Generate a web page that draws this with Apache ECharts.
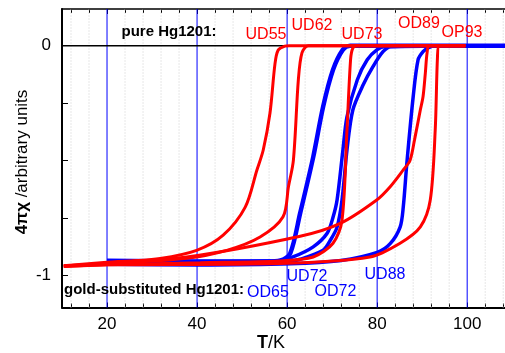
<!DOCTYPE html>
<html><head><meta charset="utf-8">
<script src="https://cdn.jsdelivr.net/npm/echarts@6/dist/echarts.min.js"></script>
<style>html,body{margin:0;padding:0;background:#fff}#c{width:505px;height:353px}</style>
</head><body><div id="c"></div>
<script>
// ---- data: [T (K), 4*pi*chi (arb. units)] ----
// gold-substituted Hg1201 (blue)
const blueOD65 = [[20,-0.939],[40,-0.942],[55,-0.940],[58.5,-0.935],[60.7,-0.904],[62.9,-0.729],[65.8,-0.485],[68,-0.266],[70.2,-0.105],[72.4,-0.017],[74,0],[110,0]];
const blueUD72 = [[20,-0.934],[40,-0.937],[58,-0.937],[61.3,-0.920],[65.8,-0.876],[68.9,-0.817],[70.2,-0.747],[71.1,-0.672],[72.4,-0.454],[73.3,-0.310],[75.6,-0.148],[77.8,-0.061],[80,-0.017],[81.8,-0.003],[110,0]];
const blueOD72 = [[20,-0.944],[40,-0.946],[60,-0.940],[62.9,-0.930],[68,-0.891],[69.6,-0.847],[71.1,-0.790],[72.2,-0.672],[73.3,-0.454],[74.6,-0.28],[76.9,-0.170],[79.1,-0.090],[81.3,-0.026],[83,-0.004],[110,0]];
const blueUD88 = [[20,-0.952],[40,-0.955],[60.7,-0.950],[72,-0.935],[80,-0.900],[82.9,-0.862],[85.1,-0.790],[85.8,-0.703],[86.6,-0.511],[88,-0.223],[89.1,-0.061],[90.2,-0.026],[91.3,-0.009],[92.9,0],[110,0]];
// pure Hg1201 (red)
const redUD55 = [[10.4,-0.958],[20,-0.948],[31.8,-0.926],[39.9,-0.891],[45.8,-0.825],[50.7,-0.703],[53.3,-0.541],[54.7,-0.454],[56.2,-0.293],[57.3,-0.08],[58.0,-0.02],[59.5,-0.002],[60.5,0],[99.6,0]];
const redUD62 = [[10.4,-0.958],[20,-0.950],[37.7,-0.926],[46.6,-0.891],[54,-0.833],[59.1,-0.745],[60.3,-0.614],[61.4,-0.498],[62.5,-0.148],[63.3,-0.031],[64.7,0],[99.6,0]];
const redUD73 = [[10.4,-0.961],[20,-0.954],[40.7,-0.945],[58.4,-0.937],[65.8,-0.920],[70.2,-0.860],[72.2,-0.760],[73.3,-0.367],[74.1,-0.06],[74.6,-0.01],[75.5,0],[99.6,0]];
const redOD89 = [[10.4,-0.958],[20,-0.943],[37.7,-0.920],[62.9,-0.830],[71.8,-0.774],[79.9,-0.672],[82.9,-0.614],[85.8,-0.541],[87.3,-0.50],[88.3,-0.41],[89.6,-0.279],[90.2,-0.221],[90.7,-0.12],[91.1,-0.03],[91.6,0],[99.6,0]];
const redOP93 = [[10.4,-0.961],[20,-0.954],[58.4,-0.948],[78.4,-0.920],[85.1,-0.860],[89.6,-0.789],[91.8,-0.672],[92.9,-0.367],[93.4,-0.05],[93.8,0],[99.6,0]];

// reference lines (axis values)
const xMajorLines = [20, 40, 60, 80, 100];
const xMinorLines = [12,16,24,28,32,36,44,48,52,56,64,68,72,76,84,88,92,96,104,108];
const xMin = 10, xMax = 108.4, yMin = -1.14, yMax = 0.16;
const yTickLabels = {'0':'0','-1':'-1'};

const FONT = 'Liberation Sans, Arial, Helvetica, sans-serif';
const RED = '#ff0000', BLUE = '#0000ff';

const chart = echarts.init(document.getElementById('c'), null, {renderer:'canvas'});

function line(name, data, color, width, z){
  return {name, type:'line', data, showSymbol:false, symbol:'none', smooth:0.3,
    lineStyle:{color, width}, itemStyle:{color}, z, animation:false, silent:true};
}
function vline(v, color, width, type, z){
  return {type:'line', data:[[v,yMin],[v,yMax]], showSymbol:false, symbol:'none', z, silent:true,
    animation:false, lineStyle:{color, width, type}};
}

const series = [];
xMinorLines.forEach(v=>series.push(vline(v, '#cfcfcf', 1, [1,2], 1)));
xMajorLines.forEach(v=>series.push(vline(v, BLUE, 1, 'solid', 2)));
series.push({type:'line', data:[[xMin,0],[xMax,0]], showSymbol:false, symbol:'none', z:2, silent:true,
  animation:false, lineStyle:{color:'#000', width:1.5}});
series.push(
  line('OD65', blueOD65, BLUE, 4.5, 3),
  line('UD72', blueUD72, BLUE, 3.5, 3),
  line('OD72', blueOD72, BLUE, 3.5, 3),
  line('UD88', blueUD88, BLUE, 3.5, 3),
  line('UD55', redUD55, RED, 3, 4),
  line('UD62', redUD62, RED, 3, 4),
  line('UD73', redUD73, RED, 3, 4),
  line('OD89', redOD89, RED, 3, 4),
  line('OP93', redOP93, RED, 3, 4)
);

function txt(t, x, y, color, font){
  return {type:'text', x, y, z:10, style:{text:t, fill:color, font, align:'center', verticalAlign:'middle'}};
}

chart.setOption({
  animation:false,
  grid:{left:62, right:0, top:9, bottom:45.5},
  xAxis:[{
    type:'value', min:xMin, max:xMax, splitNumber:5, minInterval:20, maxInterval:20,
    axisLine:{onZero:false, lineStyle:{color:'#000', width:2}},
    axisTick:{inside:true, length:5, lineStyle:{color:'#000', width:1}},
    minorTick:{show:true, splitNumber:5, length:4, lineStyle:{color:'#000', width:1}},
    axisLabel:{color:'#000', fontSize:17, fontFamily:FONT, margin:8, showMinLabel:false, showMaxLabel:false},
    splitLine:{show:false}, minorSplitLine:{show:false}
  },{
    type:'value', position:'top', min:xMin, max:xMax, splitNumber:5, minInterval:20, maxInterval:20,
    axisLine:{show:true, onZero:false, lineStyle:{color:'#000', width:1.5}},
    axisTick:{show:true, inside:true, length:5, lineStyle:{color:'#000'}},
    minorTick:{show:true, splitNumber:5, length:4, lineStyle:{color:'#000'}},
    axisLabel:{show:false}, splitLine:{show:false}, minorSplitLine:{show:false}
  }],
  yAxis:{
    type:'value', min:yMin, max:yMax, minInterval:0.25, maxInterval:0.25,
    axisLine:{show:true, onZero:false, lineStyle:{color:'#000', width:2}},
    axisTick:{show:true, inside:true, length:6, lineStyle:{color:'#000'}},
    axisLabel:{color:'#000', fontSize:17, fontFamily:FONT, margin:11, showMinLabel:false, showMaxLabel:false,
      formatter:v=>{const k=String(Math.round(v*100)/100); return yTickLabels[k]||'';}},
    splitLine:{show:false}
  },
  series,
  graphic:[
    txt('pure Hg1201:', 169, 32, '#000', 'bold 15px '+FONT),
    txt('gold-substituted Hg1201:', 154, 290, '#000', 'bold 15px '+FONT),
    txt('UD55', 266, 35, RED, '16px '+FONT),
    txt('UD62', 312, 26, RED, '16px '+FONT),
    txt('UD73', 362, 35, RED, '16px '+FONT),
    txt('OD89', 419, 24, RED, '16px '+FONT),
    txt('OP93', 462, 33, RED, '16px '+FONT),
    txt('OD65', 268, 293, BLUE, '16px '+FONT),
    txt('UD72', 307, 277, BLUE, '16px '+FONT),
    txt('OD72', 335.5, 292, BLUE, '16px '+FONT),
    txt('UD88', 385, 275, BLUE, '16px '+FONT),
    {type:'text', x:271, y:343, z:10, style:{
      text:'{b|T}{n|/K}', align:'center', verticalAlign:'middle',
      rich:{b:{font:'bold 18px '+FONT, fill:'#000'}, n:{font:'18px '+FONT, fill:'#000'}}}},
    {type:'text', x:22, y:162, rotation:Math.PI/2, z:10, style:{
      text:'{b|4πχ}{n| /arbitrary units}', align:'center', verticalAlign:'middle',
      rich:{b:{font:'bold 17px '+FONT, fill:'#000'}, n:{font:'17px '+FONT, fill:'#000'}}}}
  ]
});
</script></body></html>
